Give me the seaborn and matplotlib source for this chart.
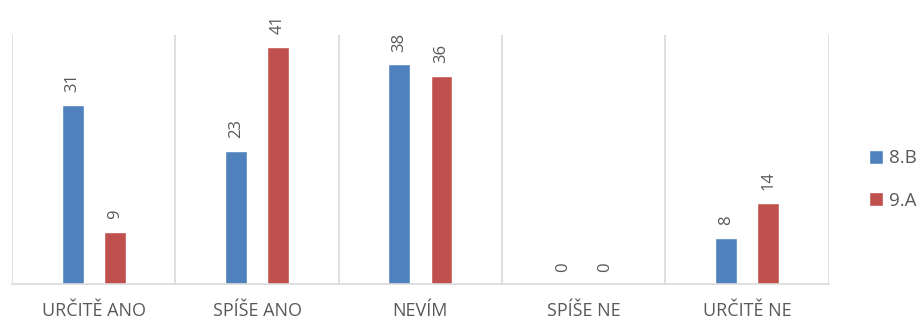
import matplotlib
matplotlib.use("Agg")
import matplotlib.pyplot as plt
import seaborn as sns
import pandas as pd

categories = ["URČITĚ ANO", "SPÍŠE ANO", "NEVÍM", "SPÍŠE NE", "URČITĚ NE"]
series_names = ["8.B", "9.A"]
values_8b = [31, 23, 38, 0, 8]
values_9a = [9, 41, 36, 0, 14]
colors = ["#4F81BD", "#C0504D"]

df = pd.DataFrame({
    "cat": categories * 2,
    "series": [series_names[0]] * 5 + [series_names[1]] * 5,
    "value": values_8b + values_9a,
})

sns.set_theme(style="white")
plt.rcParams["font.family"] = ["Open Sans", "DejaVu Sans"]

fig = plt.figure(figsize=(9.24, 3.22), dpi=100)
ax = fig.add_axes([0.013, 0.118, 0.884, 0.773])

sns.barplot(data=df, x="cat", y="value", hue="series", order=categories,
            hue_order=series_names, palette=colors, width=0.515, gap=0.48,
            saturation=1, ax=ax, legend=True)

ax.set_ylim(0, 43)
ax.set_xlim(-0.5, len(categories) - 0.5)
ax.set_xlabel("")
ax.set_ylabel("")
ax.set_yticks([])
ax.tick_params(axis="x", length=0, pad=13, labelsize=13, labelcolor="#595959")

for s in ["top", "right", "left"]:
    ax.spines[s].set_visible(False)
ax.spines["bottom"].set_color("#d9d9d9")
ax.spines["bottom"].set_linewidth(1.2)

for xb in [i - 0.5 for i in range(len(categories) + 1)]:
    ax.axvline(xb, color="#d9d9d9", lw=1.2, zorder=0)

for cont in ax.containers:
    ax.bar_label(cont, labels=[f"{int(v)}" for v in cont.datavalues],
                 rotation=90, padding=9, fontsize=12, color="#595959")

leg = ax.legend(loc="center left", bbox_to_anchor=(1.028, 0.42), frameon=False,
                fontsize=13.5, handlelength=0.75, handleheight=0.75,
                handletextpad=0.35, labelspacing=1.3)
for t in leg.get_texts():
    t.set_color("#595959")

fig.savefig("out.png", dpi=100)
